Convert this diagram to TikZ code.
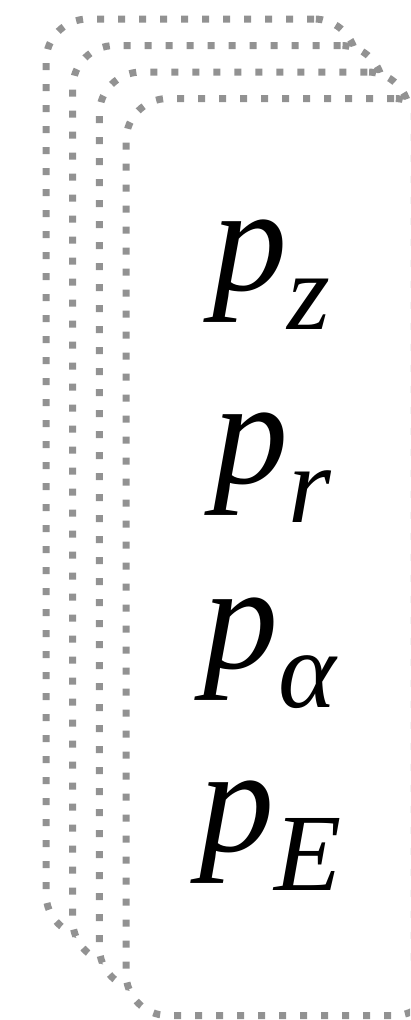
\documentclass[tikz,border=0pt]{standalone}
\usepackage{fontspec}
\setmainfont{Liberation Serif}
\definecolor{dotgray}{RGB}{146,146,146}
\begin{document}
\begin{tikzpicture}[x=1pt,y=-1pt,
  card/.style={draw=dotgray, fill=white, line width=7pt, dash pattern=on 7pt off 14pt,
    rounded corners=42pt, minimum width=310pt, minimum height=917pt, inner sep=0pt, outer sep=0pt},
  lbl/.style={inner sep=0pt, font=\fontsize{150}{150}\selectfont\itshape, anchor=base},
  sub/.style={}]
\useasboundingbox (0,0) rectangle (410,1020);
\clip (0,0) rectangle (410,1020);
\node[card] (c1) at (201.0,477.5) {};
\node[card] (c2) at (227.7,504.0) {};
\node[card] (c3) at (254.3,530.5) {};
\node[card] (c4) at (281.0,557.0) {};
\newcommand{\subtxt}[1]{\raisebox{-39pt}{\fontsize{110}{110}\selectfont #1}}
\node[lbl] (pz) at (271,290) {p\subtxt{z}};
\node[lbl] (pr) at (272,483) {p\subtxt{r}};
\node[lbl] (pa) at (270,668) {p\subtxt{α}};
\node[lbl] (pe) at (271,851) {p\subtxt{E}};
\end{tikzpicture}
\end{document}
